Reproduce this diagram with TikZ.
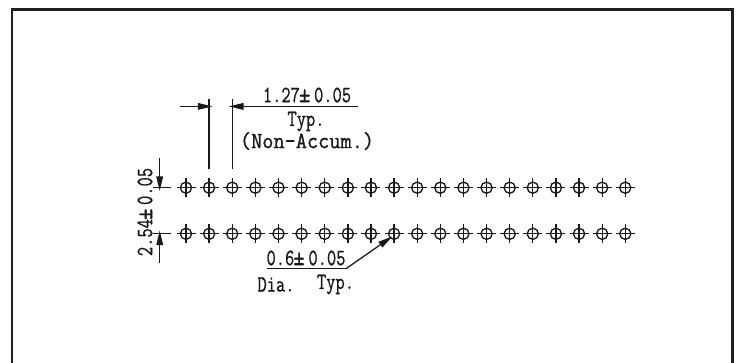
\documentclass[tikz,border=0pt]{standalone}
\usepackage{graphicx}
\usepackage{fontspec}
\setmonofont[FakeBold=0.9]{Latin Modern Mono}
\usetikzlibrary{arrows.meta}
\newcommand{\cadtext}[2][0.77]{\scalebox{#1}[1]{\fontsize{17.5pt}{19pt}\selectfont\ttfamily #2}}
\newcommand{\cadpm}{\kern-1pt\scalebox{1.25}{±}\kern-5.5pt\ }
\tikzset{
  x=0.75pt,y=-0.75pt,
  frameline/.style={line width=1.9pt,color=black!88},
  dimline/.style={line width=0.95pt,color=black!90},
  padhole/.style={circle,draw=black!90,line width=1pt,minimum size=8.4pt,inner sep=0pt},
  crosshair/.style={line width=1pt,color=black!90},
  headtip/.style={-{Triangle[length=11pt,width=5pt,sep=-2.5pt]}},
  cadlabel/.style={inner sep=0pt,color=black!90,anchor=center},
}
\begin{document}
\begin{tikzpicture}
\useasboundingbox (0,0) rectangle (738,362);
\fill[white] (0,0) rectangle (738,362);
% frame (open at the bottom, runs off the picture)
\coordinate (fa) at (12,363);
\coordinate (fb) at (12,9.5);
\coordinate (fc) at (732.5,9.5);
\coordinate (fd) at (732.5,363);
\draw[frameline,line join=miter] (fa) -- (fb) -- (fc) -- (fd);
% pads
\foreach \i in {1,...,20}{
  \pgfmathsetmacro{\px}{186+(\i-1)*23.12}
  \foreach \r/\py in {1/187.7,2/233.8}{
    \node[padhole] (r\r c\i) at (\px,\py) {};
    \draw[crosshair] (r\r c\i.center) ++(-9.5,0) -- ++(19,0);
    \draw[crosshair] (r\r c\i.center) ++(0,-9.5) -- ++(0,19);
  }
}
% horizontal pitch dimension
\coordinate (e1) at ([yshift=9.5pt]r1c2.north);
\coordinate (e2) at ([yshift=9.5pt]r1c3.north);
\path (r1c2.center) ++(0,-88.7) coordinate (t1);
\path (r1c3.center) ++(0,-88.7) coordinate (t2);
\draw[dimline] (e1) -- (t1);
\draw[dimline] (e2) -- (t2);
\path (t1) ++(0,7.4) coordinate (a1);
\path (t2) ++(0,7.4) coordinate (a2);
\path (a1) ++(-29.3,0) coordinate (la);
\path (a2) ++(125.5,0) coordinate (ra);
\draw[dimline,headtip] (la) -- (a1);
\draw[dimline,headtip] (ra) -- (a2);
\node[cadlabel] (lblpitch) at (307,95) {\cadtext{1.27\cadpm 0.05}};
\node[cadlabel] (lbltyp) at (306,121.5) {\cadtext{Typ.}};
\node[cadlabel] (lblnon) at (307,141) {\cadtext[0.93]{(Non-Accum.)}};
% vertical row-spacing dimension
\path (r1c1.center) ++(-15.3,0) coordinate (v1r);
\path (r2c1.center) ++(-15.3,0) coordinate (v2r);
\path (v1r) ++(-18,0) coordinate (v1l);
\path (v2r) ++(-18,0) coordinate (v2l);
\draw[dimline] (v1l) -- (v1r);
\draw[dimline] (v2l) -- (v2r);
\path (v1r) ++(-11,0) coordinate (vt);
\path (v2r) ++(-11,0) coordinate (vb);
\path (vt) ++(0,-29.7) coordinate (vts);
\path (vb) ++(0,29.2) coordinate (vbs);
\draw[dimline,headtip] (vts) -- (vt);
\draw[dimline,headtip] (vbs) -- (vb);
\node[cadlabel,rotate=90] (lblrow) at (145,212) {\cadtext{2.54\cadpm 0.05}};
% diameter leader
\coordinate (u1) at (266.7,268.7);
\coordinate (u2) at (346,268.7);
\draw[dimline] (u1) -- (u2);
\draw[dimline,headtip] (u2) -- (r2c10.south west);
\node[cadlabel] (lbldia) at (306,258) {\cadtext{0.6\cadpm 0.05}};
\node[cadlabel] (lbld) at (276,284.5) {\cadtext{Dia.}};
\node[cadlabel] (lblt) at (335.5,284.5) {\cadtext{Typ.}};
\end{tikzpicture}
\end{document}
